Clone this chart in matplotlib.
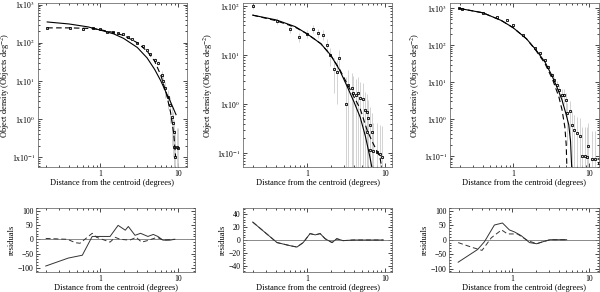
import matplotlib
matplotlib.use("Agg")
import math
import matplotlib.pyplot as plt
from matplotlib.ticker import FixedLocator, FuncFormatter, LogLocator, MultipleLocator, NullFormatter

plt.rcParams["font.family"] = ["Liberation Serif", "DejaVu Serif"]
plt.rcParams["mathtext.fontset"] = "stix"

# ---- panel 1 data ----
r1 = [0.21, 0.41, 0.61, 0.81, 1.0, 1.22, 1.47, 1.7, 1.97, 2.3, 2.6, 3.0, 3.5, 4.0, 4.4,
      5.1, 5.5, 6.2, 6.4, 6.8, 7.4, 7.9, 8.4, 8.6, 8.8, 8.9, 9.1, 9.6, 10.0]
d1 = [245, 245, 230, 245, 230, 195, 195, 180, 170, 145, 127, 100, 80, 65, 50,
      36, 30, 14, 10, 6.5, 3.8, 2.3, 1.1, 0.8, 0.46, 0.18, 0.1, 0.18, 0.17]
e1 = [8, 8, 8, 8, 8, 7, 7, 7, 7, 6, 6, 5, 5, 4, 4,
      4, 4, 4, 4, 3, 2.0, 1.5, 0.9, 0.7, 0.5, 0.4, 0.4, 0.4, 0.4]
fit1_r = [0.21, 0.4, 0.7, 1.0, 1.5, 2.0, 3.0, 4.0, 5.0, 6.0, 7.0, 8.0, 9.4]
fit1_solid = [350, 310, 260, 215, 170, 130, 75, 40, 20, 10, 5, 2.8, 1.3]
fit1_r2 = [0.21, 0.4, 0.6, 0.8, 1.0, 1.5, 2.0, 3.0, 4.0, 5.0, 6.0, 7.0, 8.0, 8.8, 9.3]
fit1_dash = [245, 245, 240, 235, 220, 185, 155, 100, 60, 33, 14, 5, 1.5, 0.4, 0.1]

res1_r = [0.2, 0.39, 0.59, 0.79, 1.0, 1.34, 1.7, 2.1, 2.3, 2.8, 3.3, 4.1, 4.8, 5.5, 6.4, 7.9, 9.1]
res1_solid = [-94, -66, -56, 10, 10, 10, 49, 32, 45, 14, 21, 10, 17, 10, -3, -3, 0]
res1_r2 = [0.2, 0.38, 0.48, 0.55, 0.79, 0.9, 1.34, 1.56, 1.8, 2.4, 2.9, 3.4, 4.0, 5.4, 6.4, 9.0]
res1_dash = [3, 0, -12, -14, 21, 7, -10, 7, 0, -3, 7, -10, -5, 7, -3, 0]

# ---- panel 2 data ----
r2 = [0.2, 0.41, 0.61, 0.79, 1.0, 1.19, 1.38, 1.6, 1.8, 1.97, 2.2, 2.4, 2.57, 3.15, 3.35,
      3.8, 3.9, 4.2, 4.5, 4.8, 5.2, 5.5, 5.9, 6.1, 6.4, 5.9, 6.8, 6.4, 7.0, 7.9, 8.6, 9.1]
d2 = [100, 49, 34, 23, 27, 34, 28, 26, 16, 10, 5.2, 4.5, 8.7, 1.0, 2.4,
      2.1, 1.7, 1.5, 1.7, 1.3, 1.26, 0.76, 0.7, 0.52, 0.37, 0.27, 0.27, 0.116, 0.11, 0.104, 0.094, 0.085]
e2 = [12, 7, 6, 5, 5, 6, 6, 6, 5, 4, 3.5, 3.5, 4, 2.5, 2.5,
      2.2, 2.0, 1.8, 1.8, 1.5, 1.4, 1.0, 0.9, 0.7, 0.5, 0.4, 0.4, 0.3, 0.3, 0.3, 0.28, 0.28]
fit2_r = [0.2, 0.4, 0.7, 1.0, 1.5, 2.0, 2.6, 3.3, 4.0, 4.8, 5.6, 6.4, 6.8]
fit2_solid = [65, 52, 38, 27, 17, 10, 5.0, 2.2, 1.1, 0.54, 0.22, 0.083, 0.05]
fit2_r2 = [0.2, 0.4, 0.7, 1.0, 1.5, 2.0, 2.6, 3.3, 4.0, 4.8, 5.9, 7.0, 8.6, 9.1]
fit2_dash = [65, 50, 37, 27, 17, 10, 5.2, 2.5, 1.4, 0.8, 0.29, 0.16, 0.083, 0.05]

res2_r = [0.2, 0.41, 0.61, 0.74, 0.89, 1.09, 1.27, 1.47, 1.7, 2.09, 2.4, 2.9, 3.9, 7.0, 9.5]
res2_solid = [28, -4, -9, -11, -4, 10, 8, 10, 2, -4, 2, -1, 0, 0, 0]

# ---- panel 3 data ----
r3 = [0.195, 0.21, 0.40, 0.62, 0.83, 1.0, 1.35, 1.95, 2.27, 2.63, 2.9, 3.26, 3.45, 3.8, 4.0,
      4.4, 4.7, 5.0, 5.1, 5.6, 6.0, 6.3, 6.9, 7.6, 8.1, 8.9, 9.4, 9.7, 10.9, 12.0, 13.5]
d3 = [1000, 940, 730, 570, 470, 350, 186, 83, 60, 40, 26, 15.6, 11.4, 8.3, 6.0,
      4.5, 4.5, 3.3, 1.5, 1.7, 0.7, 0.5, 0.42, 0.35, 0.1, 0.1, 0.095, 0.18, 0.08, 0.08, 0.065]
e3 = [20, 20, 15, 12, 10, 9, 7, 5, 4, 3.5, 3, 2.5, 2.5, 2.5, 2.2,
      2.0, 2.0, 1.8, 1.3, 1.3, 0.9, 0.8, 0.7, 0.7, 0.5, 0.5, 0.5, 0.6, 0.4, 0.4, 0.4]
fit3_r = [0.195, 0.4, 0.7, 1.0, 1.5, 2.0, 2.63, 3.3, 4.0, 4.4, 5.0, 5.4, 5.7, 5.9]
fit3_solid = [1000, 760, 470, 300, 150, 75, 35, 14, 5.5, 3.3, 1.3, 0.7, 0.25, 0.05]
fit3_r2 = [0.195, 0.4, 0.7, 1.0, 1.5, 2.0, 2.63, 3.3, 4.0, 4.4, 4.8, 5.0, 5.1]
fit3_dash = [1000, 760, 470, 300, 150, 72, 32, 12, 4.0, 1.8, 0.6, 0.2, 0.05]

res3_r = [0.195, 0.35, 0.43, 0.58, 0.74, 0.91, 1.06, 1.3, 1.67, 2.07, 2.5, 3.1, 5.1]
res3_solid = [-78, -34, -7, 51, 58, 34, 27, 14, -10, -14, -7, 0, 0]
res3_r2 = [0.195, 0.3, 0.4, 0.53, 0.72, 0.86, 1.16, 1.58, 2.07, 2.5, 3.1, 5.1]
res3_dash = [-10, -27, -37, 7, 34, 20, 20, -3, -14, -7, 0, 0]

W, H = 600.0, 292.0
fig = plt.figure(figsize=(6.0, 2.92), dpi=100)


def box(x0, y0, x1, y1):
    return [x0 / W, 1 - y1 / H, (x1 - x0) / W, (y1 - y0) / H]


def sci(v, pos):
    k = int(round(math.log10(v)))
    return r"1x10$^{%d}$" % k


def style(ax):
    ax.tick_params(which="both", direction="in", top=True, right=True,
                   labelsize=5.6, width=0.5, pad=2)
    ax.tick_params(which="major", length=3)
    ax.tick_params(which="minor", length=1.5)
    for s in ax.spines.values():
        s.set_linewidth(0.5)
        s.set_color("#555555")
    ax.set_xscale("log")
    ax.xaxis.set_major_locator(FixedLocator([1, 10]))
    ax.xaxis.set_major_formatter(FuncFormatter(lambda v, p: "%d" % v))
    ax.xaxis.set_minor_locator(LogLocator(base=10, subs=range(2, 10)))
    ax.xaxis.set_minor_formatter(NullFormatter())
    ax.set_xlabel("Distance from the centroid (degrees)", fontsize=6, labelpad=1)


def top_panel(rect, xlim, ylim, lab_x, r, d, e, fr, fs, fr2, fd):
    ax = fig.add_axes(rect)
    ax.errorbar(r, d, yerr=e, fmt="none", ecolor="#cccccc", elinewidth=0.6)
    ax.plot(r, d, "s", ms=1.8, mfc="none", mec="k", mew=0.6)
    ax.plot(fr, fs, "-", color="k", lw=0.8)
    ax.plot(fr2, fd, "--", color="k", lw=0.8, dashes=(5, 3))
    style(ax)
    ax.set_yscale("log")
    ax.yaxis.set_major_locator(LogLocator(base=10, numticks=10))
    ax.yaxis.set_major_formatter(FuncFormatter(sci))
    ax.yaxis.set_minor_locator(LogLocator(base=10, subs=range(2, 10), numticks=20))
    ax.yaxis.set_minor_formatter(NullFormatter())
    ax.set_xlim(*xlim)
    ax.set_ylim(*ylim)
    ax.set_ylabel(r"Object density (Objects deg$^{-2}$)", fontsize=6)
    ax.yaxis.set_label_coords(lab_x, 0.5)
    return ax


def bot_panel(rect, xlim, ylim, step, lab_x, rr, rs, rr2=None, rd=None):
    ax = fig.add_axes(rect)
    ax.axhline(0, color="#777777", lw=0.6)
    ax.plot(rr, rs, "-", color="#333333", lw=0.7)
    if rr2 is not None:
        ax.plot(rr2, rd, "--", color="#333333", lw=0.7, dashes=(5, 3))
    style(ax)
    ax.yaxis.set_major_locator(MultipleLocator(step))
    ax.yaxis.set_minor_locator(MultipleLocator(step / 5))
    ax.set_xlim(*xlim)
    ax.set_ylim(*ylim)
    ax.set_ylabel("residuals", fontsize=6)
    ax.yaxis.set_label_coords(lab_x, 0.5)
    return ax


top_panel(box(38, 3, 187, 167), (0.16, 13), (0.055, 1100), -0.172, r1, d1, e1,
          fit1_r, fit1_solid, fit1_r2, fit1_dash)
top_panel(box(243, 3, 392, 167), (0.15, 12.3), (0.052, 115), -0.19, r2, d2, e2,
          fit2_r, fit2_solid, fit2_r2, fit2_dash)
top_panel(box(450, 3, 599, 167), (0.148, 13.5), (0.05, 1400), -0.19, r3, d3, e3,
          fit3_r, fit3_solid, fit3_r2, fit3_dash)

bot_panel(box(36, 208, 195, 272), (0.15, 16.5), (-115, 110), 50, -0.125,
          res1_r, res1_solid, res1_r2, res1_dash)
bot_panel(box(243, 208, 392, 272), (0.15, 12.3), (-50, 50), 20, -0.107,
          res2_r, res2_solid, res2_r, res2_solid)
bot_panel(box(449, 208, 599, 272), (0.148, 13.5), (-112, 110), 50, -0.133,
          res3_r, res3_solid, res3_r2, res3_dash)

fig.savefig("out.png", dpi=100)
plt.close(fig)
